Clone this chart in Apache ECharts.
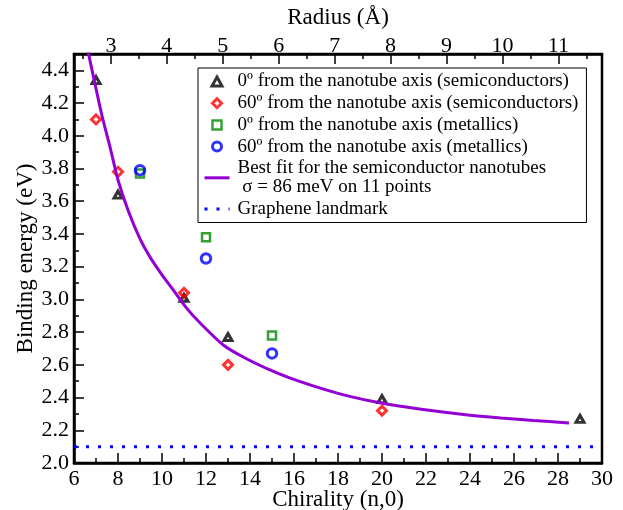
<!DOCTYPE html>
<html>
<head>
<meta charset="utf-8">
<script src="https://cdn.jsdelivr.net/npm/echarts@6/dist/echarts.min.js"></script>
<style>
html,body{margin:0;padding:0;background:#fff;}
#chart{width:623px;height:510px;}
</style>
</head>
<body>
<div id="chart"></div>
<script>
// ---- data ----
const semi0N  = [7, 8, 11, 13, 20, 29];
const semi0E  = [4.34, 3.64, 3.01, 2.77, 2.39, 2.27];
const semi60N = [7, 8, 11, 13, 20];
const semi60E = [4.10, 3.78, 3.04, 2.60, 2.32];
const met0N   = [9, 12, 15];
const met0E   = [3.77, 3.38, 2.78];
const met60N  = [9, 12, 15];
const met60E  = [3.79, 3.25, 2.67];
const fitN = [6.6, 6.95, 7.26, 7.64, 8.0, 8.47, 9.0, 9.45, 10.0, 10.5, 11.1, 11.7, 12.8, 13.8, 14.8, 15.8, 16.9, 18.3, 19.9, 21.7, 23.8, 25.4, 26.9, 28.5];
const fitE = [4.54, 4.32, 4.13, 3.93, 3.73, 3.54, 3.37, 3.26, 3.15, 3.06, 2.95, 2.86, 2.72, 2.64, 2.575, 2.52, 2.47, 2.415, 2.368, 2.33, 2.295, 2.275, 2.26, 2.245];
const grapheneN = [6, 30];
const grapheneE = [2.1, 2.1];
const radiusMajor = [3, 4, 5, 6, 7, 8, 9, 10, 11];
const radiusMinor = [2.5, 3.5, 4.5, 5.5, 6.5, 7.5, 8.5, 9.5, 10.5, 11.5];
const names = [
  '0º from the nanotube axis (semiconductors)',
  '60º from the nanotube axis (semiconductors)',
  '0º from the nanotube axis (metallics)',
  '60º from the nanotube axis (metallics)',
  'Best fit for the semiconductor nanotubes\n σ = 86 meV on 11 points',
  'Graphene landmark'
];

const zip = (a, b) => a.map((v, i) => [v, b[i]]);
const FONT = 'Liberation Serif';
const axisLine = {show: true, onZero: false, lineStyle: {color: '#000', width: 2.5}};
const labelStyle = {color: '#000', fontFamily: FONT, fontSize: 22};
const nameStyle = {color: '#000', fontFamily: FONT, fontSize: 23};

const ICON_TRI = 'path://M0,-10L11,10L-11,10Z';
const ICON_DIA = 'path://M0,-10L10,0L0,10L-10,0Z';
const ICON_SQR = 'path://M0,0L10,0L10,10L0,10Z';
const ICON_CIR = 'path://M10,0A10,10,0,1,1,-10,0A10,10,0,1,1,10,0Z';

const chart = echarts.init(document.getElementById('chart'));
chart.setOption({
  animation: false,
  backgroundColor: '#fff',
  grid: {left: 74, top: 54, right: 21, bottom: 47, show: true, borderColor: '#000', borderWidth: 2.5,
         containLabel: false, outerBoundsMode: 'none'},
  legend: {
    orient: 'vertical', left: 198, top: 68,
    backgroundColor: '#fff', borderColor: '#000', borderWidth: 1, borderRadius: 0,
    padding: [4, 8, 4, 5], itemGap: 2.7, itemWidth: 25, itemHeight: 9,
    symbolKeepAspect: true,
    textStyle: {fontFamily: FONT, fontSize: 19, lineHeight: 19, color: '#000', padding: [0, 0, 0, 3]},
    itemStyle: {borderWidth: 3},
    lineStyle: {width: 3},
    data: [
      {name: names[0], icon: ICON_TRI},
      {name: names[1], icon: ICON_DIA},
      {name: names[2], icon: ICON_SQR, itemStyle: {borderWidth: 2.5}},
      {name: names[3], icon: ICON_CIR},
      {name: names[4], itemStyle: {opacity: 0}},
      {name: names[5], itemStyle: {opacity: 0}}
    ]
  },
  xAxis: [
    {
      type: 'value', position: 'bottom', min: 6, max: 30, interval: 2,
      axisLine: axisLine,
      axisTick: {inside: true, length: 10, lineStyle: {color: '#000', width: 1.5}},
      minorTick: {show: true, splitNumber: 2, length: 5, lineStyle: {color: '#000', width: 1.5}},
      axisLabel: Object.assign({margin: 5}, labelStyle),
      splitLine: {show: false},
      name: 'Chirality (n,0)', nameLocation: 'middle', nameGap: 25, nameMoveOverlap: false,
      nameTextStyle: nameStyle
    },
    {
      type: 'value', position: 'top', min: 2.34, max: 11.78,
      axisLine: axisLine,
      axisTick: {inside: true, length: 10, customValues: radiusMajor, lineStyle: {color: '#000', width: 1.5}},
      axisLabel: Object.assign({margin: -3, customValues: radiusMajor}, labelStyle),
      splitLine: {show: false},
      name: 'Radius (Å)', nameLocation: 'middle', nameGap: 25, nameMoveOverlap: false,
      nameTextStyle: nameStyle
    },
    {
      type: 'value', position: 'top', min: 2.34, max: 11.78,
      axisLine: {show: false},
      axisTick: {inside: true, length: 5, customValues: radiusMinor, lineStyle: {color: '#000', width: 1.5}},
      axisLabel: {show: false},
      splitLine: {show: false}
    }
  ],
  yAxis: [
    {
      type: 'value', position: 'left', min: 2, max: 4.5, interval: 0.2,
      axisLine: axisLine,
      axisTick: {inside: true, length: 10, lineStyle: {color: '#000', width: 1.5}},
      axisLabel: Object.assign({margin: 5, showMaxLabel: false, formatter: v => v.toFixed(1)}, labelStyle),
      splitLine: {show: false},
      name: 'Binding energy (eV)', nameLocation: 'middle', nameGap: 37, nameRotate: 90, nameMoveOverlap: false,
      nameTextStyle: nameStyle
    },
    {
      type: 'value', position: 'left', min: 2, max: 4.5, interval: 0.1,
      axisLine: {show: false, onZero: false},
      axisTick: {inside: true, length: 5, lineStyle: {color: '#000', width: 1.5}},
      axisLabel: {show: false},
      splitLine: {show: false}
    }
  ],
  series: [
    {
      name: names[0], type: 'scatter', symbol: 'triangle', symbolSize: [8, 7],
      itemStyle: {color: 'transparent', borderColor: '#000', borderWidth: 3},
      data: zip(semi0N, semi0E)
    },
    {
      name: names[1], type: 'scatter', symbol: 'diamond', symbolSize: 9,
      itemStyle: {color: 'transparent', borderColor: '#ff0000', borderWidth: 3},
      data: zip(semi60N, semi60E)
    },
    {
      name: names[2], type: 'scatter', symbol: 'rect', symbolSize: 8,
      itemStyle: {color: 'transparent', borderColor: '#008a00', borderWidth: 2.5},
      data: zip(met0N, met0E)
    },
    {
      name: names[3], type: 'scatter', symbol: 'circle', symbolSize: 9.5,
      itemStyle: {color: 'transparent', borderColor: '#0000ff', borderWidth: 3},
      data: zip(met60N, met60E)
    },
    {
      name: names[4], type: 'line', smooth: 0.3, showSymbol: false, symbol: 'none',
      itemStyle: {color: '#9400d3'},
      lineStyle: {color: '#9400d3', width: 3},
      data: zip(fitN, fitE)
    },
    {
      name: names[5], type: 'line', showSymbol: false, symbol: 'none',
      itemStyle: {color: '#0000ff'},
      lineStyle: {color: '#0000ff', width: 3, type: [3, 9]},
      data: zip(grapheneN, grapheneE)
    }
  ]
});
</script>
</body>
</html>
